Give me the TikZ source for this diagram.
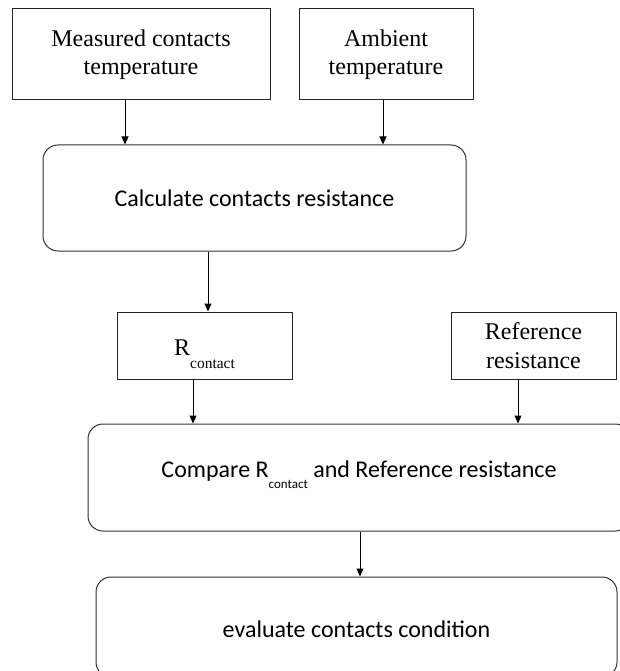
\documentclass[tikz,border=0pt]{standalone}
\usepackage{fontspec}
\setmainfont{Liberation Serif}
\newfontfamily\bodysans{Carlito}
\usetikzlibrary{arrows.meta}

% subscripts that do not change the height of the line they sit in
\newcommand{\serifsub}[1]{\raisebox{-13pt}[0pt][0pt]{\fontsize{15.5}{15.5}\selectfont #1}}
\newcommand{\sanssub}[1]{\raisebox{-11pt}[0pt][0pt]{\fontsize{13}{13}\selectfont #1}}
% move a line of text up or down without changing how the node centres it
\newcommand{\nudge}[2]{\raisebox{#1}[\height][\depth]{#2}}

\begin{document}
\begin{tikzpicture}[x=1pt,y=-1pt,
  inbox/.style={draw=black!85, line width=1pt, rectangle, inner sep=0pt,
    align=center, font=\fontsize{24}{28.5}\selectfont},
  procbox/.style={draw=black!80, line width=1pt, rectangle, rounded corners=15pt,
    inner sep=0pt, align=center, font=\bodysans\fontsize{24}{28}\selectfont},
  arr/.style={draw=black, line width=1pt,
    -{Triangle[length=8pt,width=7pt]}}
]
\useasboundingbox (0,0) rectangle (620,671);

% data inputs
\node[inbox, minimum width=258pt, minimum height=91pt] (meas) at (141,54.5)
  {Measured contacts\\temperature};
\node[inbox, minimum width=174pt, minimum height=91pt] (amb) at (386,54.5)
  {Ambient\\temperature};

% resistance calculation
\node[procbox, minimum width=423pt, minimum height=106pt] (calc) at (254.5,198)
  {Calculate contacts resistance};

% resistance values
\node[inbox, minimum width=175pt, minimum height=67pt] (rc) at (204.5,345.5)
  {\nudge{-2pt}{R\serifsub{contact}}};
\node[inbox, minimum width=165pt, minimum height=67pt] (ref) at (533.5,345.5)
  {Reference\\resistance};

% comparison and evaluation
\node[procbox, minimum width=542pt, minimum height=107pt] (cmp) at (359,477.5)
  {\nudge{6pt}{Compare R\sanssub{contact} and Reference resistance}};
\node[procbox, minimum width=521pt, minimum height=100pt] (eval) at (356.5,627)
  {\nudge{-2pt}{evaluate contacts condition}};

% connectors
\draw[arr] ([xshift=-16pt]meas.south) -- ([xshift=-16pt]meas.south |- calc.north);
\draw[arr] ([xshift=-3pt]amb.south) -- ([xshift=-3pt]amb.south |- calc.north);
\draw[arr] ([xshift=3.5pt]rc.north |- calc.south) -- ([xshift=3.5pt]rc.north);
\draw[arr] ([xshift=-11.5pt]rc.south) -- ([xshift=-11.5pt]rc.south |- cmp.north);
\draw[arr] ([xshift=-15.5pt]ref.south) -- ([xshift=-15.5pt]ref.south |- cmp.north);
\draw[arr] ([xshift=1pt]cmp.south) -- ([xshift=1pt]cmp.south |- eval.north);
\end{tikzpicture}
\end{document}
